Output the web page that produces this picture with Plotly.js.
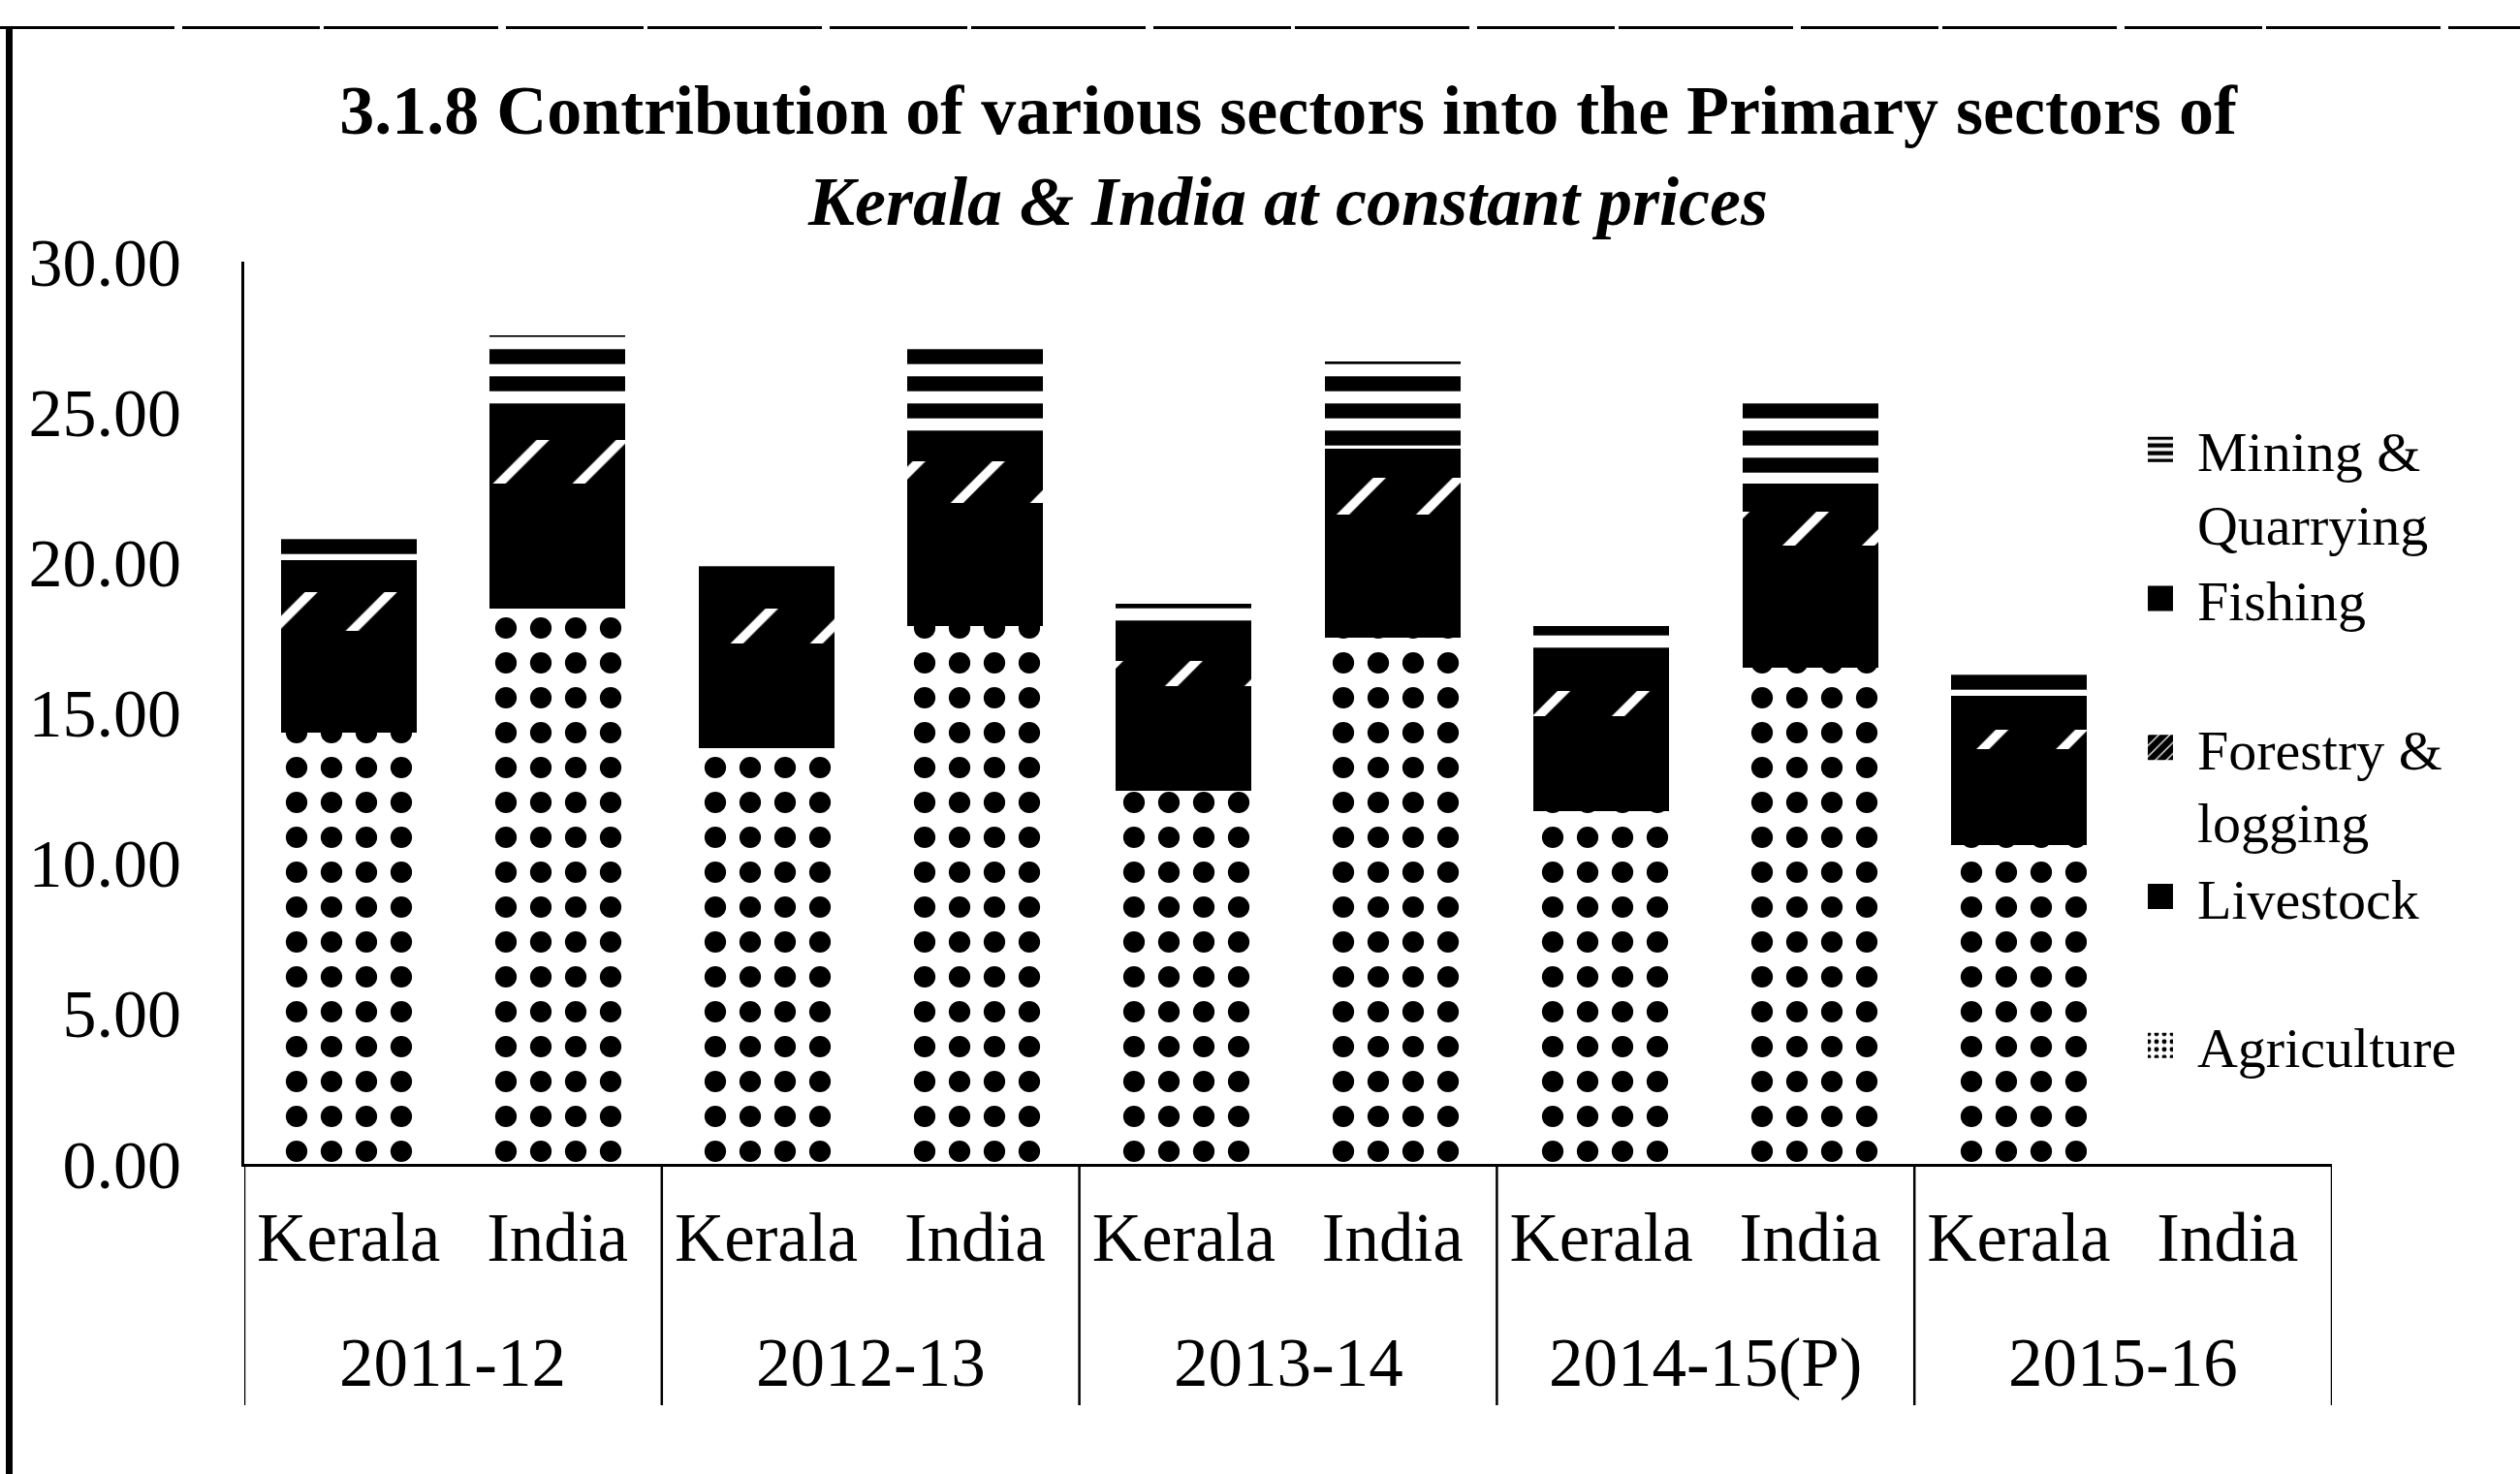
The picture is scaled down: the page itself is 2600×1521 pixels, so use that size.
<!DOCTYPE html>
<html>
<head>
<meta charset="utf-8">
<script src="https://cdn.plot.ly/plotly-3.0.1.min.js"></script>
<style>
  html, body { margin: 0; padding: 0; background: #fff; overflow: hidden; }
  #wrap { position: relative; width: 2600px; height: 1521px; overflow: hidden; }
  #chart { width: 2600px; height: 1521px; }
  #leftrule { position: absolute; left: 6px; top: 27px; width: 7px; height: 1494px; background: #000; pointer-events: none; }
  #toprule { position: absolute; left: 0; top: 27px; width: 2600px; height: 3px; pointer-events: none;
             background: repeating-linear-gradient(to right, #000 0 180px, transparent 180px 188px, #000 188px 330px, transparent 330px 334px); }
</style>
</head>
<body>
<div id="wrap">
  <div id="chart"></div>
  <div id="leftrule"></div>
  <div id="toprule"></div>
</div>
<script>
// Categories (two-level axis: year, region)
const years   = ['2011-12','2011-12','2012-13','2012-13','2013-14','2013-14','2014-15(P)','2014-15(P)','2015-16','2015-16'];
const regions = ['Kerala','India','Kerala','India','Kerala','India','Kerala','India','Kerala','India'];

// Series values (% share); 2015-16 India has no bar
const agriculture = [14.35, 18.47, 13.81, 17.90, 12.42, 17.51, 11.72, 16.51, 10.59, null];
const livestock   = [ 3.38,  4.16,  3.51,  4.08,  3.48,  4.09,  3.18,  4.06,  3.19, null];
const forestry    = [ 1.29,  1.44,  1.15,  1.39,  0.84,  1.22,  0.81,  1.12,  0.67, null];
const fishing     = [ 1.06,  0.84,  1.13,  0.87,  1.09,  0.97,  1.16,  0.94,  1.13, null];
const mining      = [ 0.71,  2.64,  0.45,  2.99,  0.81,  2.89,  1.03,  2.83,  0.96, null];

const seriesNames = ['Agriculture', 'Livestock<br>\u00A0', 'Forestry &<br>logging', 'Fishing<br>\u00A0', 'Mining &<br>Quarrying'];
const yTicks = [0, 5, 10, 15, 20, 25, 30];

const FONT = 'Liberation Serif, Times New Roman, serif';

// unique category keys built from the two label arrays
const cats = years.map((yr, i) => yr + ' | ' + regions[i]);

function bar(name, y, fill, pattern) {
  return {
    type: 'bar', name: name, x: cats, y: y,
    marker: { color: fill, line: { width: 0 }, pattern: pattern },
    hoverinfo: 'skip'
  };
}

const traces = [
  bar(seriesNames[0], agriculture, '#ffffff', { shape: '.', fgcolor: '#000', bgcolor: '#fff', size: 36, solidity: 0.3, fillmode: 'replace' }),
  bar(seriesNames[1], livestock,   '#000000', { shape: '' }),
  bar(seriesNames[2], forestry,    '#000000', { shape: '/', fgcolor: '#fff', bgcolor: '#000', size: 58, solidity: 0.16, fillmode: 'replace' }),
  bar(seriesNames[3], fishing,     '#000000', { shape: '' }),
  bar(seriesNames[4], mining,      '#ffffff', { shape: '-', fgcolor: '#000', bgcolor: '#fff', size: 28, solidity: 0.55, fillmode: 'replace' })
];

// year group labels and dividers, derived from the category arrays
const yearGroups = [];
years.forEach((yr, i) => {
  let g = yearGroups.find(o => o.year === yr);
  if (!g) { g = { year: yr, first: i, last: i }; yearGroups.push(g); }
  g.last = i;
});

const annotations = yearGroups.map(g => ({
  x: (g.first + g.last) / 2, xref: 'x', y: -0.2202, yref: 'paper',
  yanchor: 'middle', xanchor: 'center', showarrow: false,
  text: g.year, font: { family: FONT, size: 71, color: '#000' }
}));

const dividerX = [yearGroups[0].first - 0.5].concat(yearGroups.map(g => g.last + 0.5));
const shapes = dividerX.map(v => ({
  type: 'line', xref: 'x', yref: 'paper', x0: v, x1: v, y0: 0, y1: -0.2675,
  line: { color: '#000', width: 2.5 }, layer: 'above'
}));

const layout = {
  width: 2600, height: 1521,
  paper_bgcolor: '#fff', plot_bgcolor: '#fff',
  margin: { l: 252, r: 194, t: 270, b: 320, autoexpand: false },
  barmode: 'stack', bargap: 0.35,
  font: { family: FONT, color: '#000', size: 64 },
  title: {
    text: '<b>3.1.8 Contribution of various sectors into the Primary sectors of<br><i>Kerala & India at constant prices</i></b>',
    font: { family: FONT, size: 72, color: '#000' },
    x: 0.5, xanchor: 'center', xref: 'paper',
    y: 1 - 138 / 1521, yanchor: 'middle', yref: 'container'
  },
  xaxis: {
    type: 'category', categoryorder: 'array', categoryarray: cats,
    range: [-0.5, cats.length - 0.5],
    tickvals: cats, ticktext: regions,
    showline: true, linecolor: '#000', linewidth: 3,
    showgrid: false, zeroline: false, ticks: '',
    ticklabelstandoff: 12,
    tickfont: { family: FONT, size: 71, color: '#000' }
  },
  yaxis: {
    range: [0, 30], tickvals: yTicks, tickformat: '.2f',
    showline: true, linecolor: '#000', linewidth: 3,
    showgrid: false, zeroline: false, ticks: '',
    ticklabelstandoff: 48,
    tickfont: { family: FONT, size: 70, color: '#000' }
  },
  annotations: annotations,
  shapes: shapes,
  showlegend: true,
  legend: {
    x: 0.9076, xanchor: 'left', y: 0.8395, yanchor: 'top',
    traceorder: 'reversed', valign: 'top',
    font: { family: FONT, size: 58, color: '#000' },
    bgcolor: 'rgba(0,0,0,0)', borderwidth: 0, tracegroupgap: 0, itemwidth: 50
  }
};

function enlargeSwatches() {
  // draw the legend swatches at the size used in the original chart
  document.querySelectorAll('#chart g.legendpoints path').forEach(p => {
    p.setAttribute('d', 'M5,13H-21V-13H5Z');
  });
}

Plotly.newPlot('chart', traces, layout, { staticPlot: true, displayModeBar: false });
enlargeSwatches();
const gdEl = document.getElementById('chart');
if (gdEl.on) gdEl.on('plotly_afterplot', enlargeSwatches);
setTimeout(enlargeSwatches, 0);
setTimeout(enlargeSwatches, 100);
</script>
</body>
</html>
